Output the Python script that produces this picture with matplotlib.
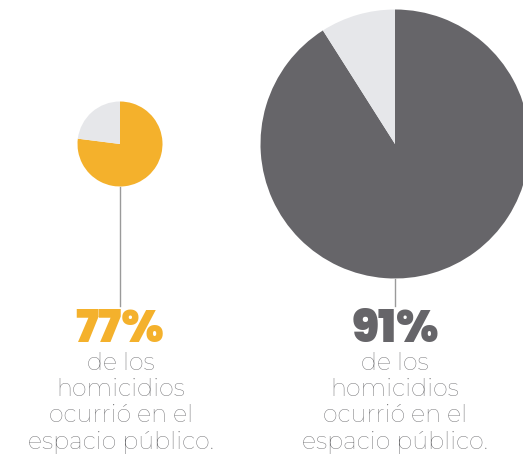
import matplotlib
matplotlib.use("Agg")
import matplotlib.pyplot as plt
from matplotlib import font_manager as fm

# Data
labels = ["Espacio público", "Otro"]
left_values = [77, 23]
right_values = [91, 9]
left_pct = "77%"
right_pct = "91%"
caption = ["de los", "homicidios", "ocurrió en el", "espacio público."]

YELLOW = "#F4B12C"
DARK = "#666569"
LIGHT = "#E6E7EA"
TEXT = "#6B6B6E"

entries = [f for f in fm.fontManager.ttflist if f.style == "normal"]

def wnum(f):
    try:
        return int(f.weight)
    except (TypeError, ValueError):
        return {"light": 300, "normal": 400, "bold": 700, "black": 900}.get(str(f.weight), 400)

def pick(names, target, minw=0, maxw=1000):
    for n in names:
        cands = [f for f in entries if f.name == n and minw <= wnum(f) <= maxw]
        if cands:
            return min(cands, key=lambda f: abs(wnum(f) - target))
    return None

f_light = pick(["Montserrat", "Raleway", "Poppins", "Lato"], 300)
f_heavy = pick(["Montserrat Black", "Montserrat ExtraBold", "Montserrat", "Poppins",
                "Montserrat Alternates", "Red Hat Display", "Figtree", "Urbanist",
                "Outfit", "Lexend", "Sora", "Raleway", "Lato"], 900, minw=800)
light_fp = fm.FontProperties(fname=f_light.fname) if f_light else fm.FontProperties(family="Lato", weight="light")
heavy_fp = fm.FontProperties(fname=f_heavy.fname) if f_heavy else fm.FontProperties(family="Lato", weight="black")

W, H = 523, 465
fig = plt.figure(figsize=(W / 100, H / 100), dpi=100)
ax = fig.add_axes([0, 0, 1, 1])

def py(y):
    return H - y

ax.pie(left_values, colors=[YELLOW, LIGHT], startangle=90, counterclock=False,
       center=(120, py(144)), radius=42.5, wedgeprops=dict(linewidth=0))
ax.pie(right_values, colors=[DARK, LIGHT], startangle=90, counterclock=False,
       center=(395, py(144)), radius=134.5, wedgeprops=dict(linewidth=0))

ax.plot([120, 120], [py(187), py(306)], color="#9a9a9a", lw=1)
ax.plot([395, 395], [py(279), py(306)], color="#9a9a9a", lw=1)

hp = heavy_fp.copy(); hp.set_size(32.5)
ax.text(120, py(341.5), left_pct, ha="center", va="baseline",
        fontproperties=hp, color=YELLOW)
ax.text(395, py(341.5), right_pct, ha="center", va="baseline",
        fontproperties=hp, color=DARK)

lp = light_fp.copy(); lp.set_size(17.2)
for i, line in enumerate(caption):
    y = 363 + i * 26.5
    for cx in (121, 395):
        ax.text(cx, py(y), line, ha="center", va="center",
                fontproperties=lp, color=TEXT)

ax.set_xlim(0, W)
ax.set_ylim(0, H)
ax.set_aspect("equal")
ax.axis("off")
fig.savefig("out.png", dpi=100)
